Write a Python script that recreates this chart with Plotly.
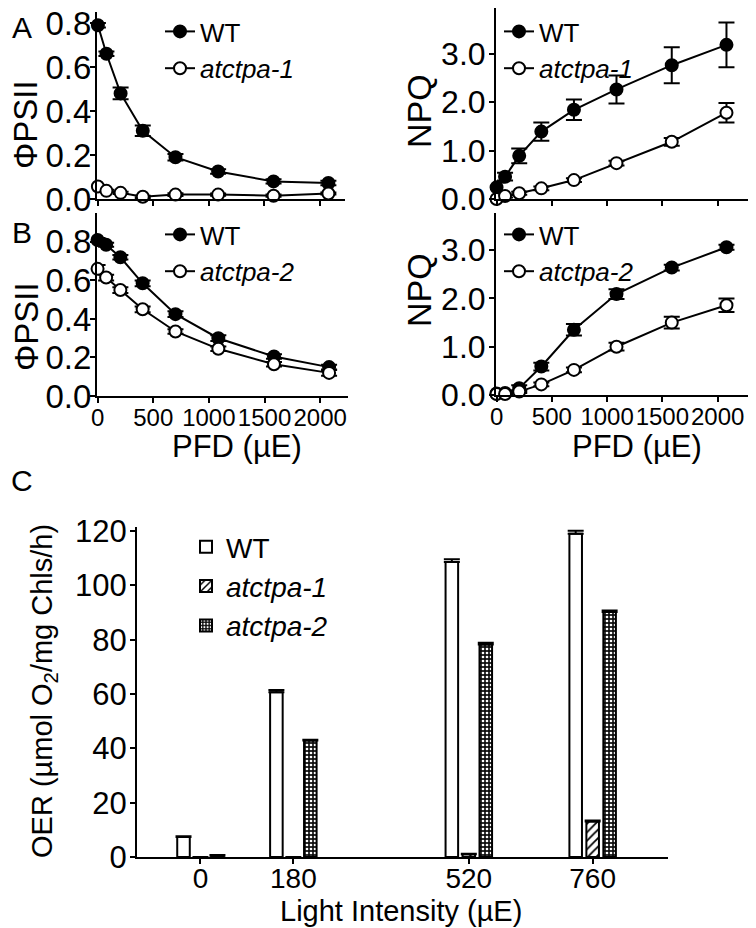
import plotly.graph_objects as go

# photon flux density (µE) used in panels A and B
pfd = [0, 77, 205, 405, 700, 1085, 1585, 2080]

# A: WT vs atctpa-1
phi_wt_a = [0.79, 0.66, 0.48, 0.31, 0.19, 0.125, 0.08, 0.073]
phi_wt_a_err = [0.01, 0.01, 0.027, 0.024, 0.015, 0.01, 0.01, 0.01]
phi_m1 = [0.057, 0.037, 0.028, 0.01, 0.02, 0.02, 0.015, 0.025]
phi_m1_err = [0.006, 0.005, 0.005, 0.005, 0.006, 0.005, 0.005, 0.005]
npq_wt_a = [0.24, 0.46, 0.89, 1.39, 1.84, 2.26, 2.76, 3.18]
npq_wt_a_err = [0.1, 0.08, 0.15, 0.19, 0.21, 0.29, 0.37, 0.46]
npq_m1 = [0.0, 0.06, 0.12, 0.22, 0.39, 0.74, 1.18, 1.78]
npq_m1_err = [0.02, 0.03, 0.03, 0.04, 0.04, 0.05, 0.08, 0.2]

# B: WT vs atctpa-2
phi_wt_b = [0.81, 0.785, 0.72, 0.585, 0.425, 0.30, 0.205, 0.15]
phi_wt_b_err = [0.01, 0.01, 0.012, 0.015, 0.015, 0.015, 0.012, 0.012]
phi_m2 = [0.66, 0.615, 0.55, 0.45, 0.335, 0.245, 0.165, 0.12]
phi_m2_err = [0.02, 0.015, 0.015, 0.015, 0.012, 0.012, 0.012, 0.015]
npq_wt_b = [0.03, 0.04, 0.14, 0.59, 1.35, 2.09, 2.64, 3.06]
npq_wt_b_err = [0.03, 0.03, 0.06, 0.08, 0.12, 0.1, 0.06, 0.05]
npq_m2 = [0.02, 0.02, 0.07, 0.22, 0.52, 1.0, 1.5, 1.86]
npq_m2_err = [0.02, 0.02, 0.03, 0.04, 0.05, 0.08, 0.12, 0.14]

# C: oxygen evolution rate
light = [0, 180, 520, 760]
oer_wt = [7.4, 60.7, 108.6, 119.0]
oer_wt_err = [0.2, 0.8, 1.0, 1.1]
oer_m1 = [0, 0, 1.0, 13.1]
oer_m1_err = [0, 0, 0.2, 0.3]
oer_m2 = [0.5, 42.9, 78.2, 90.2]
oer_m2_err = [0.2, 0.3, 0.7, 0.6]

FONT = "Liberation Sans, Arial, sans-serif"
# the page body adds an 8px margin, so the figure is drawn 8px smaller and positions are shifted
OFF = 8
W, H = 756 - OFF, 928 - OFF


def px(x):
    return (x - OFF) / W


def py(y):
    return 1 - (y - OFF) / H


fig = go.Figure()


def add_curve(xa, ya, y, err, name, filled, legend):
    fig.add_trace(go.Scatter(
        x=pfd, y=y, xaxis=xa, yaxis=ya, name=name, legend=legend,
        mode="lines+markers",
        line=dict(color="black", width=2),
        marker=dict(size=12, color="black" if filled else "white",
                    line=dict(color="black", width=2)),
        error_y=dict(type="data", array=err, color="black", thickness=2, width=8),
        cliponaxis=False,
    ))


add_curve("x", "y", phi_wt_a, phi_wt_a_err, "WT", True, "legend")
add_curve("x", "y", phi_m1, phi_m1_err, "<i>atctpa-1</i>", False, "legend")
add_curve("x2", "y2", npq_wt_a, npq_wt_a_err, "WT", True, "legend2")
add_curve("x2", "y2", npq_m1, npq_m1_err, "<i>atctpa-1</i>", False, "legend2")
add_curve("x3", "y3", phi_wt_b, phi_wt_b_err, "WT", True, "legend3")
add_curve("x3", "y3", phi_m2, phi_m2_err, "<i>atctpa-2</i>", False, "legend3")
add_curve("x4", "y4", npq_wt_b, npq_wt_b_err, "WT", True, "legend4")
add_curve("x4", "y4", npq_m2, npq_m2_err, "<i>atctpa-2</i>", False, "legend4")

bar_err = dict(type="data", symmetric=False, color="black", thickness=2, width=8)
fig.add_trace(go.Bar(
    x=light, y=oer_wt, xaxis="x5", yaxis="y5", name="WT", legend="legend5",
    marker=dict(color="white", line=dict(color="black", width=2)),
    error_y=dict(bar_err, array=oer_wt_err, arrayminus=[0] * 4),
))
fig.add_trace(go.Bar(
    x=light, y=oer_m1, xaxis="x5", yaxis="y5", name="<i>atctpa-1</i>", legend="legend5",
    marker=dict(color="white", line=dict(color="black", width=2),
                pattern=dict(shape="/", fgcolor="black", bgcolor="white", size=6, solidity=0.3)),
    error_y=dict(bar_err, array=oer_m1_err, arrayminus=[0] * 4),
))
fig.add_trace(go.Bar(
    x=light, y=oer_m2, xaxis="x5", yaxis="y5", name="<i>atctpa-2</i>", legend="legend5",
    marker=dict(color="black", line=dict(color="black", width=2),
                pattern=dict(shape=".", fgcolor="white", bgcolor="#111", size=4, solidity=0.35)),
    error_y=dict(bar_err, array=oer_m2_err, arrayminus=[0] * 4),
))


def axis(domain, rng, anchor, size=34, standoff=-3, **kw):
    d = dict(domain=domain, range=rng, anchor=anchor, showline=True, linecolor="black",
             linewidth=2, ticks="outside", ticklen=5, tickwidth=2, tickcolor="black",
             showgrid=False, zeroline=False, automargin=False, tickangle=0,
             ticklabeloverflow="allow", ticklabelstandoff=standoff,
             tickfont=dict(family=FONT, size=size, color="black"))
    d.update(kw)
    return d


pfd_ticks = [0, 500, 1000, 1500, 2000]
phi_ticks = [0, 0.2, 0.4, 0.6, 0.8]
npq_ticks = [0, 1, 2, 3]

fig.update_layout(
    xaxis=axis([px(97), px(345)], [-8, 2230], "y", tickvals=pfd_ticks, showticklabels=False),
    yaxis=axis([py(199), py(12)], [0, 0.85], "x", tickvals=phi_ticks, tickformat=".1f",
               size=33, standoff=-8),
    xaxis2=axis([px(496), px(753)], [-5, 2320], "y2", tickvals=pfd_ticks, showticklabels=False),
    yaxis2=axis([py(199), py(8)], [0, 3.94], "x2", tickvals=npq_ticks, tickformat=".1f", size=32),
    xaxis3=axis([px(97), px(348)], [-5, 2250], "y3", tickvals=pfd_ticks, size=24, standoff=-6),
    yaxis3=axis([py(396), py(213)], [0, 0.95], "x3", tickvals=phi_ticks, tickformat=".1f",
                size=33, standoff=-8),
    xaxis4=axis([px(496), px(753)], [-5, 2320], "y4", tickvals=pfd_ticks, size=24, standoff=-6),
    yaxis4=axis([py(395), py(213)], [0, 3.77], "x4", tickvals=npq_ticks, tickformat=".1f", size=32),
    xaxis5=axis([px(137), px(668)], [-123, 906], "y5", tickvals=light, size=28, standoff=-10),
    yaxis5=axis([py(857), py(527)], [0, 121.5], "x5", tickvals=[0, 20, 40, 60, 80, 100, 120], size=31),
    barmode="group", bargap=0.452, bargroupgap=0.26,
    width=W, height=H, margin=dict(l=0, r=0, t=0, b=0),
    template="none", plot_bgcolor="white", paper_bgcolor="white",
    font=dict(family=FONT, color="black"),
)

leg = dict(xanchor="left", yanchor="top", bgcolor="rgba(0,0,0,0)",
           font=dict(family=FONT, size=26, color="black"))
fig.update_layout(
    legend=dict(leg, x=px(160), y=py(8)),
    legend2=dict(leg, x=px(499), y=py(8)),
    legend3=dict(leg, x=px(160), y=py(211)),
    legend4=dict(leg, x=px(499), y=py(211)),
    legend5=dict(leg, x=px(186), y=py(522), font=dict(family=FONT, size=28, color="black")),
)

notes = [
    ("A", 22, 28, 30, 0), ("B", 22, 232, 30, 0), ("C", 22, 480, 30, 0),
    ("ΦPSII", 26, 125, 33, -90), ("ΦPSII", 26, 327, 33, -90),
    ("NPQ", 419, 111, 34, -90), ("NPQ", 419, 290, 34, -90),
    ("PFD (µE)", 237, 447, 31, 0), ("PFD (µE)", 637, 447, 31, 0),
    ("Light Intensity (µE)", 401, 911, 29, 0),
    ("OER (µmol O<sub>2</sub>/mg Chls/h)", 44, 691, 29, -90),
]
for text, x, y, size, ang in notes:
    fig.add_annotation(text=text, x=px(x), y=py(y), xref="paper", yref="paper",
                       showarrow=False, textangle=ang, xanchor="center", yanchor="middle",
                       font=dict(family=FONT, size=size, color="black"))

fig.write_html("out.html")
